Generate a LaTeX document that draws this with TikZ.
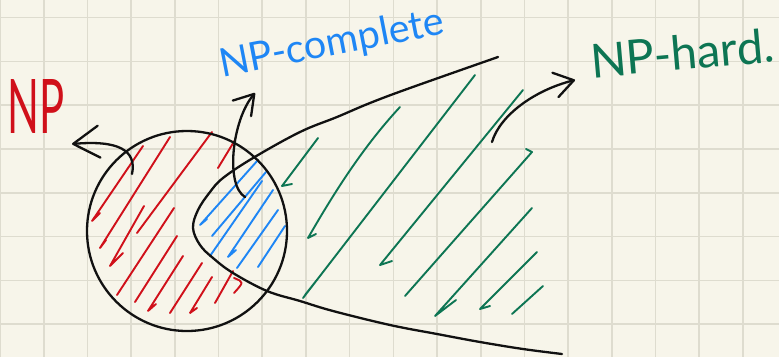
\documentclass[tikz,border=0pt]{standalone}
\usepackage{graphicx}
\usepackage{fontspec}
\setmainfont{Lato}
\usetikzlibrary{arrows.meta}
\definecolor{paper}{HTML}{F7F5EA}
\definecolor{gridc}{HTML}{DEDCCF}
\definecolor{ink}{HTML}{111111}
\definecolor{npred}{HTML}{D0101A}
\definecolor{npblue}{HTML}{1E86F5}
\definecolor{npgreen}{HTML}{0D7553}
\begin{document}
\begin{tikzpicture}[x=1pt,y=-1pt,
  gridline/.style={draw=gridc, line width=1.6pt},
  outline/.style={draw=ink, line width=2.3pt, line cap=round, line join=round},
  redhatch/.style={draw=npred, line width=1.9pt, line cap=round, line join=round},
  bluehatch/.style={draw=npblue, line width=1.9pt, line cap=round, line join=round},
  greenhatch/.style={draw=npgreen, line width=1.9pt, line cap=round, line join=round},
  lbl/.style={inner sep=0pt, outer sep=0pt},
]
% paper and grid
\fill[paper] (0,0) rectangle (779,357);
\useasboundingbox (0,0) rectangle (779,357);
\foreach \i in {0,...,17} \draw[gridline] ({43.7*\i},0) -- ({43.7*\i},357);
\foreach \j in {0,...,7} \draw[gridline] (0,{17.5+43.8*\j}) -- (779,{17.5+43.8*\j});

% red hatching (NP only)
\draw[redhatch]
  (143,146) -- (92,221) -- (100,213)
  (170,137) -- (100,248) -- (106,240)
  (212,132) -- (137,233)
  (235,140) -- (218,168)
  (144,206) -- (110,266) -- (123,253)
  (174,208) -- (117,295)
  (177,236) -- (135,302)
  (183,256) -- (148,311) -- (156,304)
  (202,263) -- (170,313)
  (212,277) -- (190,313) -- (197,308)
  (233,271) -- (215,303)
  (234,278) .. controls (244,282) .. (234,293);

% blue hatching (NP-complete)
\draw[bluehatch]
  (258,160) -- (200,225) -- (207,219)
  (266,172) -- (212,236)
  (262,181) -- (210,256)
  (273,190) -- (228,257) -- (236,250)
  (278,210) -- (237,268)
  (285,226) -- (258,267);

% green hatching (NP-hard)
\draw[greenhatch]
  (318,138) -- (282,186) -- (292,184)
  (400,107) .. controls (360,150) and (330,200) .. (308,238) -- (316,234)
  (475,75) -- (303,298)
  (320,276) -- (305,295)
  (523,90) -- (380,265) -- (392,261)
  (526,149) -- (532,152) -- (405,296)
  (532,208) -- (435,316) -- (456,300)
  (537,252) -- (480,309) -- (490,306)
  (543,286) -- (512,314);

% NP circle
\node[outline, circle, minimum size=200pt, inner sep=0pt] (npset) at (187,231) {};

% NP-hard boundary
\draw[outline] plot[smooth, tension=0.6] coordinates {
  (498,57) (410,88) (370,103) (337,117) (300,132) (253,158) (223,178)
  (210,192) (198,210) (193,228) (200,245) (213,258) (233,273) (267,291)
  (300,301) (333,311) (390,325) (437,334) (480,342) (523,349) (562,354)};

% labels
\node[lbl, anchor=base west, text=npred] (lblNP) at (8,133)
  {\resizebox{57pt}{54pt}{NP}};
\node[lbl, anchor=base west, text=npblue, rotate=11] (lblNPC) at (222,77)
  {\resizebox{228pt}{!}{NP-complete}};
\node[lbl, anchor=base west, text=npgreen, rotate=5] (lblNPH) at (592,78)
  {\resizebox{184pt}{!}{NP-hard.}};

% arrows
\coordinate (fromNP) at (132,174);
\coordinate (toNP) at (72,144);
\coordinate (fromNPC) at (245,197);
\coordinate (toNPC) at (255,93);
\coordinate (fromNPH) at (492,142);
\coordinate (toNPH) at (575,80);
\draw[outline, -{Straight Barb[length=26pt,width=32pt,round]}]
  (fromNP) .. controls (137,150) and (118,140) .. (toNP);
\draw[outline, -{Straight Barb[length=19pt,width=24pt,round]}]
  (fromNPC) .. controls (225,185) and (232,120) .. (toNPC);
\draw[outline, -{Straight Barb[length=19pt,width=25pt,round]}]
  (fromNPH) .. controls (500,115) and (535,90) .. (toNPH);
\end{tikzpicture}
\end{document}
